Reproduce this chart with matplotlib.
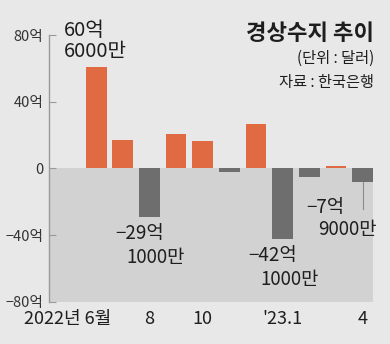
import matplotlib
matplotlib.use('Agg')
import matplotlib.pyplot as plt
import numpy as np

plt.rcParams['font.family'] = ['Noto Sans CJK KR', 'DejaVu Sans']

# 월별 경상수지 (억 달러)
months = ['2022.6', '7', '8', '9', '10', '11', '12', '23.1', '2', '3', '4']
values = [60.6, 17.0, -29.1, 20.8, 16.2, -2.2, 26.8, -42.1, -5.2, 1.6, -7.9]
tick_pos = [0, 2, 4, 7, 10]
tick_labels = ['2022년 6월', '8', '10', "'23.1", '4']
yticks = [80, 40, 0, -40, -80]
ytick_labels = ['80억', '40억', '0', '−40억', '−80억']

bg = '#e8e8e8'
neg_bg = '#d2d2d2'
orange = '#e06b42'
dark = '#6e6e6e'
txt = '#1e1e1e'

W, H = 390, 344
fig = plt.figure(figsize=(W / 100, H / 100), dpi=100, facecolor=bg)
# 축 영역 (픽셀 기준으로 맞춤)
ax = fig.add_axes([49 / W, 1 - 301.7 / H, (373 - 49) / W, (301.7 - 35) / H])
ax.set_facecolor(bg)

x = np.arange(len(values))
ax.set_xlim(-1.77, 10.39)
ax.set_ylim(-80, 80)

ax.axhspan(-80, 0, color=neg_bg, zorder=0, lw=0)

colors = [orange if v > 0 else dark for v in values]
ax.bar(x, values, width=0.78, color=colors, zorder=2)

for s in ['top', 'right', 'bottom']:
    ax.spines[s].set_visible(False)
ax.spines['left'].set_color('#9a9a9a')
ax.spines['left'].set_linewidth(1.0)

ax.set_yticks(yticks)
ax.set_yticklabels(ytick_labels, fontsize=10.5, color='#333333')
ax.tick_params(axis='y', direction='in', length=5, color='#9a9a9a', pad=4)
ax.set_xticks([])

# x 라벨
for p, lab in zip(tick_pos, tick_labels):
    if p == 0:
        ax.text(p + 0.55, -85, lab, ha='right', va='top', fontsize=13, color=txt)
    else:
        ax.text(p, -85, lab, ha='center', va='top', fontsize=13, color=txt)

# 마지막 막대 지시선
ax.plot([x[-1], x[-1]], [values[-1], -24.4], color='#8a8a8a', lw=0.8, zorder=3)

# 주석 (픽셀 위치)
def ftext(px, py, s, **kw):
    fig.text(px / W, 1 - py / H, s, color=txt, **kw)

ftext(64, 30, '60억', fontsize=14.5, va='center')
ftext(64, 52, '6000만', fontsize=14.5, va='center')
ftext(115, 234, '−29억', fontsize=13.5, va='center')
ftext(126, 257, '1000만', fontsize=13.5, va='center')
ftext(248, 256, '−42억', fontsize=13.5, va='center')
ftext(260, 279, '1000만', fontsize=13.5, va='center')
ftext(306, 208, '−7억', fontsize=13.5, va='center')
ftext(318, 230, '9000만', fontsize=13.5, va='center')

ftext(374, 33, '경상수지 추이', fontsize=16, fontweight='bold', ha='right', va='center')
ftext(374, 58, '(단위 : 달러)', fontsize=11, ha='right', va='center')
ftext(374, 82, '자료 : 한국은행', fontsize=11, ha='right', va='center')

fig.savefig('out.png', dpi=100, facecolor=bg)
